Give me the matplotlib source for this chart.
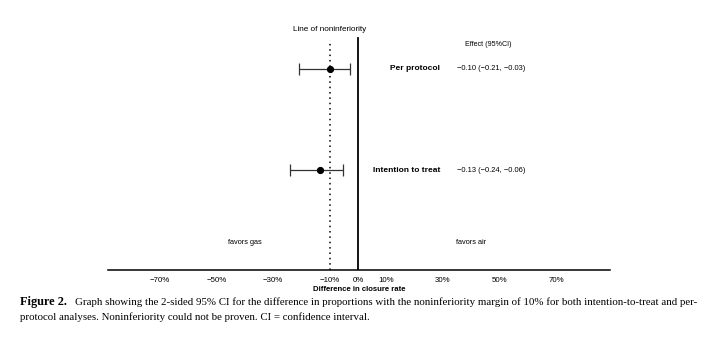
import matplotlib
matplotlib.use('Agg')
import matplotlib.pyplot as plt

plt.rcParams['font.family'] = ['Liberation Sans', 'DejaVu Sans']

# data
analyses = ['Per protocol', 'Intention to treat']
effect = [-0.10, -0.134]
ci_low = [-0.21, -0.24]
ci_high = [-0.03, -0.053]
effect_text = ['\u22120.10 (\u22120.21, \u22120.03)', '\u22120.13 (\u22120.24, \u22120.06)']
rows = [2, 1]
margin = -0.10
ticks = [-0.7, -0.5, -0.3, -0.1, 0, 0.1, 0.3, 0.5, 0.7]
tick_labels = ['\u221270%', '\u221250%', '\u221230%', '\u221210%', '0%', '10%', '30%', '50%', '70%']

fig = plt.figure(figsize=(7.08, 3.38), dpi=100)
ax = fig.add_axes([108/708, 1 - 270/338, (610 - 108)/708, 250/338])

ax.set_xlim(-0.883, 0.890)
ax.set_ylim(0.01, 2.485)

for r, e, lo, hi in zip(rows, effect, ci_low, ci_high):
    ax.errorbar(e, r, xerr=[[e - lo], [hi - e]], fmt='o', color='black',
                ecolor='#333333', elinewidth=0.9, capsize=4, capthick=0.9,
                markersize=4.2)

ax.plot([0, 0], [0.01, 2.307], color='black', lw=1.3)
ax.plot([margin, margin], [0.01, 2.287], color='black', lw=1.1, ls=(0, (1, 2.5)))

ax.text(margin, 2.395, 'Line of noninferiority', ha='center', va='center', fontsize=5.9)
ax.text(0.46, 2.245, 'Effect (95%CI)', ha='center', va='center', fontsize=5.1)
for r, name, t in zip(rows, analyses, effect_text):
    ax.text(0.29, r, name, ha='right', va='center', fontsize=6.0, fontweight='bold')
    ax.text(0.35, r, t, ha='left', va='center', fontsize=5.4)

ax.text(-0.40, 0.28, 'favors gas', ha='center', va='center', fontsize=5.3)
ax.text(0.40, 0.28, 'favors air', ha='center', va='center', fontsize=5.3)

for s in ['top', 'right', 'left']:
    ax.spines[s].set_visible(False)
ax.spines['bottom'].set_linewidth(1.1)
ax.set_yticks([])
ax.set_xticks(ticks)
ax.set_xticklabels(tick_labels, fontsize=5.7)
ax.tick_params(axis='x', length=0, pad=5)
ax.set_xlabel('Difference in closure rate', fontsize=5.6, fontweight='bold', labelpad=1.5)

cap1 = ('Graph showing the 2-sided 95% CI for the difference in proportions with the '
        'noninferiority margin of 10% for both intention-to-treat and per-')
cap2 = 'protocol analyses. Noninferiority could not be proven. CI = confidence interval.'
fig_lbl = fig.text(20/708, 1 - 302/338, 'Figure 2.', fontsize=8.2, fontweight='bold',
                   family='Liberation Serif', va='center')
t1 = fig.text(75/708, 1 - 302/338, cap1, fontsize=8.2, family='Liberation Serif', va='center')
t2 = fig.text(20/708, 1 - 317/338, cap2, fontsize=8.2, family='Liberation Serif', va='center')

# fit caption widths to the reference
fig.canvas.draw()
r = fig.canvas.get_renderer()
w1 = t1.get_window_extent(r).width
size = 8.2 * 613 / w1
t1.set_fontsize(size)
t2.set_fontsize(size)
fig_lbl.set_fontsize(size + 1.0)

fig.savefig('out.png', dpi=100)
